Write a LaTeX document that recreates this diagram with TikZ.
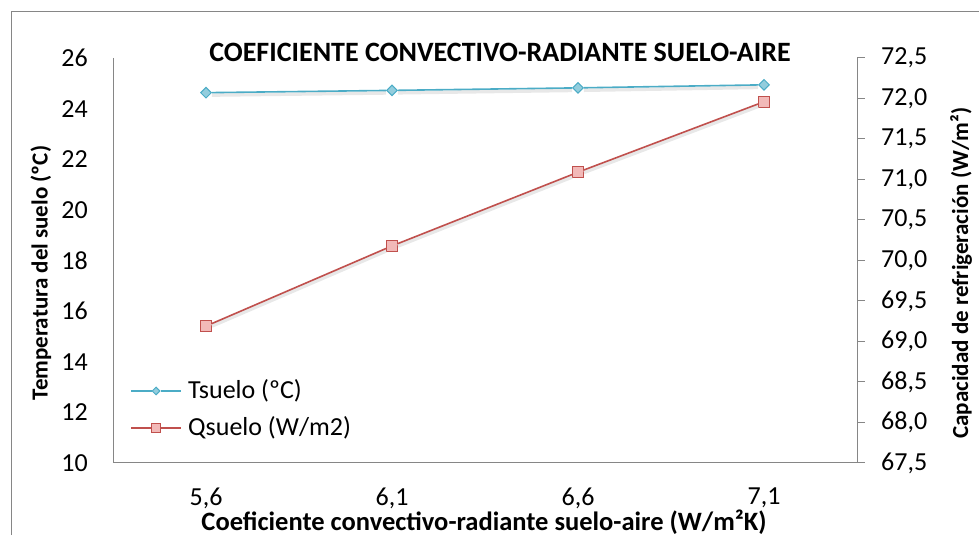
\documentclass[tikz,border=0pt]{standalone}
\usepackage{fontspec}
\setmainfont{Carlito}
\usepackage{xcolor}
\usepackage{tikz}
\usetikzlibrary{shapes.geometric}
\usetikzlibrary{positioning}

\definecolor{tblue}{HTML}{4BACC6}
\definecolor{tbluefill}{HTML}{93CDDD}
\definecolor{qred}{HTML}{C0504D}
\definecolor{qredfill}{HTML}{F2B9B8}
\definecolor{axisgray}{HTML}{868686}

\begin{document}
\begin{tikzpicture}[x=1pt, y=1pt,
		ticklabel/.style={font=\fontsize{26}{30}\selectfont, inner sep=0pt},
		axistitle/.style={font=\fontsize{23}{27}\selectfont\bfseries, inner sep=0pt},
		charttitle/.style={font=\fontsize{28}{32}\selectfont\bfseries, inner sep=0pt},
		shadowed/.style={preaction={draw=black!9, line width=3.5pt, transform canvas={yshift=-2.5pt}}},
		tline/.style={draw=tblue, line width=1.6pt},
		qline/.style={draw=qred, line width=1.6pt},
		tmark/.style={diamond, draw=tblue, fill=tbluefill, line width=1pt, inner sep=0pt, minimum size=11pt},
		qmark/.style={rectangle, draw=qred, fill=qredfill, line width=1pt, inner sep=0pt, minimum size=11pt},
		axis/.style={draw=axisgray, line width=1pt}]
			\useasboundingbox (0,0) rectangle (979,535);
			% chart frame
			\draw[axisgray, line width=1pt] (11,0) -- (11,523) -- (979,523);
			% plot area
			\coordinate (o) at (113,72);
			\coordinate (lt) at (113,477);
			\coordinate (r) at (857,72);
			\coordinate (rt) at (857,477);
			\draw[axis] (lt) -- (o) -- (r) -- (rt);
			% left axis
			\foreach \v in {10,12,...,26}
				\node[ticklabel, anchor=east] (yl\v) at (88, {72+(\v-10)*25.3125}) {\v};
			% right axis
			\foreach \a/\b [count=\i from 0] in {67/5,68/0,68/5,69/0,69/5,70/0,70/5,71/0,71/5,72/0,72/5}
			{
				\draw[axis] (857, {72+\i*40.5}) -- (865, {72+\i*40.5});
				\node[ticklabel, anchor=west] (yr\i) at (881, {72+\i*40.5}) {\a,\b};
			}
			% categories
			\foreach \a/\b [count=\i from 0] in {5/6,6/1,6/6,7/1}
				\node[ticklabel] (x\i) at ({206+186*\i}, 37) {\a,\b};
			% titles
			\node[charttitle] (title) at (500,483) {COEFICIENTE CONVECTIVO-RADIANTE SUELO-AIRE};
			\node[charttitle, font=\fontsize{26.5}{30}\selectfont\bfseries] (xtitle) at (484,13) {Coeficiente convectivo-radiante suelo-aire (W/m²K)};
			\node[axistitle, rotate=90] (ytitle) at (41,262) {Temperatura del suelo (ºC)};
			\node[axistitle, rotate=90] (y2title) at (961,262) {Capacidad de refrigeración (W/m²)};
			% series
			\foreach \v [count=\i] in {24.63,24.72,24.82,24.94}
				\node[tmark] (t\i) at ({206+186*(\i-1)}, {72+(\v-10)*25.3125}) {};
			\foreach \v [count=\i] in {69.19,70.18,71.09,71.96}
				\node[qmark] (q\i) at ({206+186*(\i-1)}, {72+(\v-67.5)*81}) {};
			\draw[tline, shadowed] (t1) -- (t2) -- (t3) -- (t4);
			\draw[qline, shadowed] (q1) -- (q2) -- (q3) -- (q4);
			% legend
			\coordinate (la) at (131,144);
			\coordinate (lb) at (181,144);
			\node[tmark, minimum size=8pt] (lt) at (156,144) {};
			\draw[tline] (la) -- (lt) -- (lb);
			\node[ticklabel, anchor=west, right=7pt of lb] (ltext) {Tsuelo (ºC)};
			\coordinate (lc) at (131,107);
			\coordinate (ld) at (181,107);
			\node[qmark, minimum size=9pt] (lq) at (156,107) {};
			\draw[qline] (lc) -- (lq) -- (ld);
			\node[ticklabel, anchor=west, right=7pt of ld] (lqtext) {Qsuelo (W/m2)};
		\end{tikzpicture}
\end{document}
